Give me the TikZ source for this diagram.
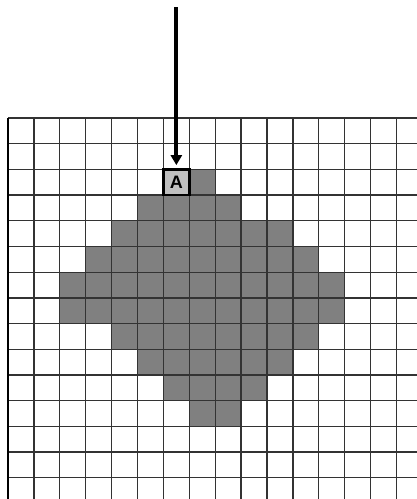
\documentclass[tikz,border=0pt]{standalone}
\usepackage{fontspec}
\setsansfont{Liberation Sans}
\usetikzlibrary{arrows.meta,positioning}
\newcommand{\cw}{25.9}
\newcommand{\ch}{25.7}

\begin{document}
\begin{tikzpicture}[x=1pt,y=-1pt,
  cellfill/.style={fill=black!50},
  gridline/.style={black!80,line width=1.3pt},
  marker/.style={draw,line width=2.5pt,fill=black!25,minimum width=\cw pt,minimum height=\ch pt,
    inner sep=0pt,font=\sffamily\bfseries\fontsize{18}{20}\selectfont}]
\useasboundingbox (0,0) rectangle (417,499);
\fill[white] (0,0) rectangle (417,499);
% shaded cells: row/first column/last column
\foreach \r/\a/\b in {2/7/7,3/5/8,4/4/10,5/3/11,6/2/12,7/2/12,8/4/11,9/5/10,10/6/9,11/7/8}
  \fill[cellfill] ({8+\a*\cw},{118+\r*\ch}) rectangle ({8+(\b+1)*\cw},{118+(\r+1)*\ch});
% grid
\foreach \k in {0,...,15} \draw[gridline] ({8+\k*\cw},118) -- ({8+\k*\cw},499);
\foreach \k in {0,...,14} \draw[gridline] (8,{118+\k*\ch}) -- (417,{118+\k*\ch});
\draw[line width=2.2pt] (8,118) -- (8,499);
% marked cell and arrow
\node[marker] (A) at ({8+6.5*\cw},{118+2.5*\ch}) {A};
\coordinate (start) at ({8+6.5*\cw},7);
\draw[line width=4pt,-{Triangle[width=11pt,length=10pt]},shorten >=3pt] (start) -- (A);
\end{tikzpicture}
\end{document}
